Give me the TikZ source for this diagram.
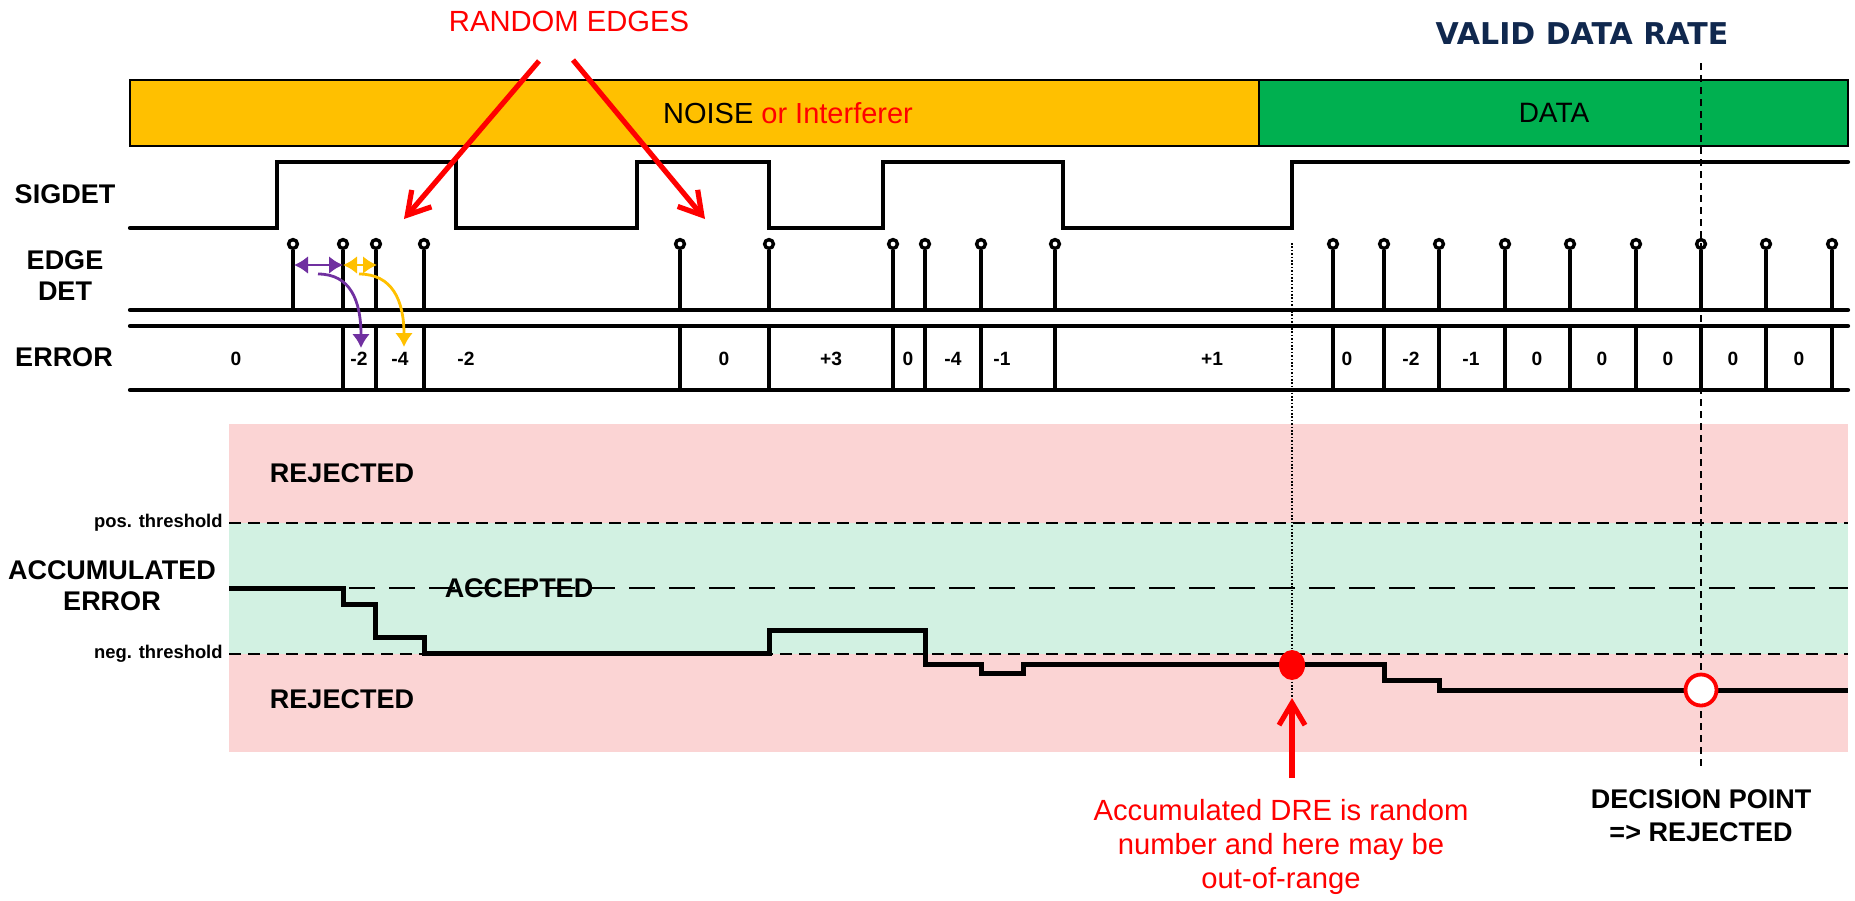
\documentclass[tikz,border=0pt]{standalone}
\usepackage{fontspec}
\setmainfont{Liberation Sans}
\newfontfamily\vfont{DejaVu Sans}
\usetikzlibrary{arrows.meta,shapes.geometric}
\definecolor{orangebox}{HTML}{FFC000}
\definecolor{greenbox}{HTML}{00B050}
\definecolor{pinkzone}{RGB}{251,212,212}
\definecolor{greenzone}{RGB}{210,241,226}
\definecolor{navy}{RGB}{16,40,78}
\definecolor{purp}{HTML}{7030A0}
\definecolor{yel}{HTML}{FFC000}
\definecolor{redc}{HTML}{FF0000}
\begin{document}
\begin{tikzpicture}[x=0.5pt,y=-0.5pt,
  rowlabel/.style={font=\fontsize{13.5}{15.5}\selectfont\bfseries, inner sep=0, align=center},
  errval/.style={font=\fontsize{9.6}{10}\selectfont\bfseries, inner sep=0},
  thr/.style={font=\fontsize{9.2}{10}\selectfont\bfseries, anchor=east, inner sep=0},
  redtxt/.style={text=redc, font=\fontsize{14.6}{17}\selectfont, align=center, inner sep=0},
  wave/.style={line width=2.1pt, line cap=round},
  stemhead/.style={circle, draw, fill=white, line width=1.7pt, minimum size=4.4pt, inner sep=0},
  bigred/.style={draw=redc, line width=2.6pt, -{Straight Barb[length=11pt,width=13pt]}},
  thrline/.style={line width=1pt, dash pattern=on 6pt off 3.5pt},
  midline/.style={line width=0.8pt, dash pattern=on 13pt off 7pt},
  smallarrow/.style={line width=1.4pt, {Latex[length=7pt,width=9pt]}-{Latex[length=7pt,width=9pt]}},
  curvearrow/.style={line width=1.4pt, -{Latex[length=7pt,width=9pt]}}
]
\useasboundingbox (0,0) rectangle (1855,900);

% ---------- top bars ----------
\node[redtxt] (randomedges) at (569,21) {RANDOM EDGES};
\node[font=\vfont\bfseries\fontsize{15}{17}\selectfont, text=navy, inner sep=0] (validrate) at (1582,34) {VALID DATA RATE};
\draw[fill=orangebox, line width=0.6pt] (130,80) rectangle (1259,146);
\draw[fill=greenbox, line width=0.6pt] (1259,80) rectangle (1848,146);
\node[font=\fontsize{14.5}{16}\selectfont, inner sep=0] (noise) at (788,113) {NOISE \textcolor{redc}{or Interferer}};
\node[font=\fontsize{14}{16}\selectfont, inner sep=0] (data) at (1554,113) {DATA};

% ---------- row labels ----------
\node[rowlabel] (lsig) at (65,194) {SIGDET};
\node[rowlabel] (ledge) at (65,276) {EDGE\\DET};
\node[rowlabel] (lerr) at (64,357) {ERROR};
\node[rowlabel] (lacc) at (112,586) {ACCUMULATED\\ERROR};

% ---------- SIGDET waveform ----------
\draw[wave, line join=miter, line cap=round] (130,228) -- (277,228) -- (277,162) -- (456,162) -- (456,228) -- (637,228) -- (637,162) -- (769,162) -- (769,228) -- (883,228) -- (883,162) -- (1063,162) -- (1063,228) -- (1292,228) -- (1292,162) -- (1848,162);

% ---------- EDGE DET ----------
\draw[wave] (130,310) -- (1848,310);
\foreach \x in {293,343,376,424,680,769,893,925,981,1055,1333,1384,1439,1505,1570,1636,1701,1766,1832}{
  \node[stemhead] (st\x) at (\x,244) {};
  \draw[wave, line cap=butt] (\x,310) -- (st\x.south);
}

% ---------- ERROR row ----------
\draw[wave] (130,326) -- (1848,326);
\draw[wave] (130,390) -- (1848,390);
\foreach \x in {343,376,424,680,769,893,925,981,1055,1333,1384,1439,1505,1570,1636,1701,1766,1832}{
  \draw[wave, line cap=butt] (\x,326) -- (\x,390);
}
\foreach \x/\t [count=\i] in {236/0,359/-2,400/-4,466/-2,724/0,831/+3,908/0,953/-4,1002/-1,1212/+1,1347/0,1411/-2,1471/-1,1537/0,1602/0,1668/0,1733/0,1799/0}{
  \node[errval] (ev\i) at (\x,359) {\t};
}

% ---------- purple / yellow arrows ----------
\coordinate (pa) at (294,265);
\coordinate (pb) at (343,265);
\coordinate (ya) at (343,265);
\coordinate (yb) at (377,265);
\draw[smallarrow, draw=purp, fill=purp] (pa) -- (pb);
\draw[smallarrow, draw=yel, fill=yel] (ya) -- (yb);
\coordinate (pc0) at (318,274);
\coordinate (pc1) at (361,348);
\coordinate (yc0) at (359,274);
\coordinate (yc1) at (404,347);
\draw[curvearrow, draw=purp] (pc0) .. controls (350,274) and (361,300) .. (pc1);
\draw[curvearrow, draw=yel] (yc0) .. controls (392,274) and (404,300) .. (yc1);

% ---------- accumulated error zones ----------
\fill[pinkzone] (229,424) rectangle (1848,752);
\fill[greenzone] (229,523) rectangle (1848,654);
\draw[thrline] (229,523) -- (1848,523);
\draw[thrline] (229,654) -- (1848,654);
\node[thr] (pos) at (223,523) {pos. threshold};
\node[thr] (neg) at (223,654) {neg. threshold};
\node[rowlabel] (rej1) at (342,473) {REJECTED};
\node[rowlabel] (rej2) at (342,699) {REJECTED};
\node[rowlabel] (acc) at (519,588) {ACCEPTED};
\draw[midline] (229,588) -- (1848,588);

% ---------- accumulated error trace ----------
\draw[line width=2.5pt, line join=miter] (229,588) -- (343,588) -- (343,604) -- (375,604) -- (375,637) -- (424,637) -- (424,653) -- (769,653) -- (769,630) -- (925,630) -- (925,664) -- (981,664) -- (981,673) -- (1023,673) -- (1023,664) -- (1384,664) -- (1384,680) -- (1439,680) -- (1439,690) -- (1848,690);

% ---------- vertical markers ----------
\coordinate (dotTop) at (1292,243);
\coordinate (dotBot) at (1292,698);
\draw[line width=0.7pt, dash pattern=on 0.8pt off 0.9pt] (dotTop) -- (dotBot);
\coordinate (decTop) at (1701,63);
\coordinate (decBot) at (1701,766);
\draw[line width=1.3pt, dash pattern=on 3.5pt off 2.5pt] (decTop) -- (decBot);

\node[ellipse, fill=redc, minimum width=13pt, minimum height=15pt, inner sep=0] (reddot) at (1292,665) {};
\node[circle, draw=redc, fill=white, line width=1.9pt, minimum size=15.5pt, inner sep=0] (opendot) at (1701,690) {};

% ---------- red arrows ----------
\coordinate (r1s) at (539,61);
\coordinate (r1e) at (404,219);
\coordinate (r2s) at (573,60);
\coordinate (r2e) at (705,219);
\draw[bigred] (r1s) -- (r1e);
\draw[bigred] (r2s) -- (r2e);
\coordinate (upS) at (1292,778);
\draw[bigred] (upS) -- (dotBot);

% ---------- bottom texts ----------
\node[redtxt] (note) at (1281,847) {Accumulated DRE is random\\number and here may be\\out-of-range};
\node[rowlabel, font=\fontsize{13.5}{16.5}\selectfont\bfseries] (decision) at (1701,816) {DECISION POINT\\=> REJECTED};
\end{tikzpicture}
\end{document}
